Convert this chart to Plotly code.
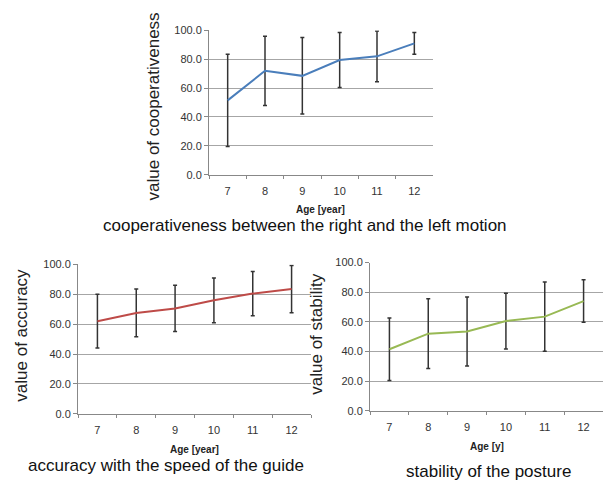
import plotly.graph_objects as go

ages = ["7", "8", "9", "10", "11", "12"]

coop_mean = [51.5, 72.0, 68.5, 79.5, 82.0, 91.0]
coop_err = [32.0, 24.0, 26.5, 19.0, 17.5, 7.5]

acc_mean = [62.0, 67.5, 70.5, 76.0, 80.5, 83.5]
acc_err = [18.0, 16.0, 15.5, 15.0, 14.8, 15.8]

stab_mean = [41.5, 52.0, 53.5, 60.5, 63.5, 74.0]
stab_err = [21.0, 23.5, 23.3, 18.8, 23.3, 14.3]

y_ticks = [0, 20, 40, 60, 80, 100]
y_tick_text = ["0.0", "20.0", "40.0", "60.0", "80.0", "100.0"]

W, H = 603, 487
FONT = "Liberation Sans, Arial, sans-serif"


def px(x0, x1):
    return [x0 / W, x1 / W]


def py(top, bottom):
    return [1 - bottom / H, 1 - top / H]


panels = [
    dict(mean=coop_mean, err=coop_err, color="#4a7ebb", xd=px(209, 433), yd=py(25, 173),
         ytitle="value of cooperativeness", ytx=153, yty=103, xtitle="Age [year]", xty=209,
         caption="cooperativeness between the right and the left motion", capx=305, capy=225),
    dict(mean=acc_mean, err=acc_err, color="#be4b48", xd=px(78, 311), yd=py(265, 418),
         ytitle="value of accuracy", ytx=22, yty=338, xtitle="Age [year]", xty=455,
         caption="accuracy with the speed of the guide", capx=166, capy=471),
    dict(mean=stab_mean, err=stab_err, color="#98b954", xd=px(370, 603), yd=py(263, 415),
         ytitle="value of stability", ytx=317, yty=337, xtitle="Age [y]", xty=452,
         caption="stability of the posture", capx=488, capy=477),
]

fig = go.Figure()
annotations = []
layout = {}
for i, p in enumerate(panels, start=1):
    xa = "x" if i == 1 else f"x{i}"
    ya = "y" if i == 1 else f"y{i}"
    fig.add_trace(go.Scatter(
        x=ages, y=p["mean"], mode="lines", xaxis=xa, yaxis=ya,
        line=dict(color=p["color"], width=2),
        error_y=dict(type="data", array=p["err"], visible=True, color="#333333",
                     thickness=1.5, width=2),
        showlegend=False, hoverinfo="skip"))
    layout[f"xaxis{'' if i == 1 else i}"] = dict(
        domain=p["xd"], anchor=ya, type="category", range=[-0.5, 5.5],
        tickson="boundaries", ticks="outside", ticklen=3, tickcolor="#888888",
        ticklabelstandoff=6,
        showline=True, linecolor="#888888", linewidth=1, showgrid=False,
        tickfont=dict(family=FONT, size=11, color="#333333"), fixedrange=True)
    layout[f"yaxis{'' if i == 1 else i}"] = dict(
        domain=p["yd"], anchor=xa, range=[0, 100], tickvals=y_ticks, ticktext=y_tick_text,
        ticks="outside", ticklen=4, tickcolor="#888888",
        showline=True, linecolor="#888888", linewidth=1,
        showgrid=True, gridcolor="#a6a6a6", gridwidth=1, zeroline=False,
        tickfont=dict(family=FONT, size=11, color="#333333"), fixedrange=True)
    annotations.append(dict(text=p["ytitle"], x=p["ytx"] / W, y=1 - p["yty"] / H,
                            xref="paper", yref="paper",
                            textangle=-90, showarrow=False, xanchor="center", yanchor="middle",
                            font=dict(family=FONT, size=17, color="#222222")))
    xc = (p["xd"][0] + p["xd"][1]) / 2
    annotations.append(dict(text="<b>" + p["xtitle"] + "</b>", x=xc, y=1 - p["xty"] / H,
                            xref="paper", yref="paper", showarrow=False,
                            xanchor="center", yanchor="middle",
                            font=dict(family=FONT, size=10, color="#222222")))
    annotations.append(dict(text=p["caption"], x=p["capx"] / W, y=1 - p["capy"] / H,
                            xref="paper", yref="paper", showarrow=False,
                            xanchor="center", yanchor="middle",
                            font=dict(family=FONT, size=17, color="#111111")))

fig.update_layout(width=W, height=H, margin=dict(l=0, r=0, t=0, b=0),
                  paper_bgcolor="white", plot_bgcolor="white",
                  annotations=annotations, **layout)

fig.write_html("out.html")
